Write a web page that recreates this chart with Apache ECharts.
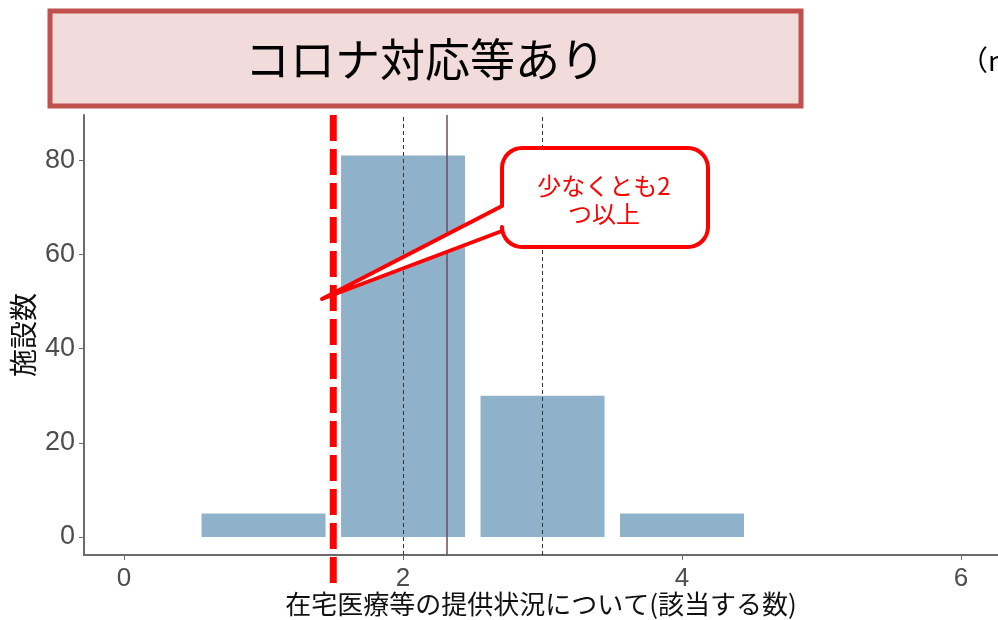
<!DOCTYPE html>
<html><head><meta charset="utf-8">
<script src="https://cdn.jsdelivr.net/npm/echarts@6/dist/echarts.min.js"></script>
<style>html,body{margin:0;padding:0;background:#fff}#c{width:998px;height:620px}</style>
</head><body><div id="c"></div>
<script>
const categories = [1, 2, 3, 4];
const counts = [5, 81, 30, 5];
const xTicks = [0, 2, 4, 6];
const yTicks = [0, 20, 40, 60, 80];
const thresholdX = 1.5;
const quartileX = [2, 3];
const meanX = 2.31;
const titleText = 'コロナ対応等あり';
const nText = '（n=121）';
const calloutText = '少なくとも2\nつ以上';
const xName = '在宅医療等の提供状況について(該当する数)';
const yName = '施設数';

const chart = echarts.init(document.getElementById('c'), null, {renderer: 'canvas'});
const latin = '"Liberation Sans", Arial, sans-serif';
const jp = '"Noto Sans CJK JP", sans-serif';

const option = {
  animation: false,
  backgroundColor: '#ffffff',
  grid: {left: 84, right: 0, top: 115, bottom: 65, containLabel: false, outerBoundsMode: 'none'},
  xAxis: {
    type: 'value', min: -0.287, max: 6.265,
    name: xName, nameLocation: 'middle', nameGap: 36, nameMoveOverlap: false,
    nameTextStyle: {fontFamily: jp, fontSize: 26, color: '#111'},
    axisLine: {show: true, onZero: false, lineStyle: {color: '#6b6b6b', width: 2}},
    axisTick: {show: true, customValues: xTicks, length: 5, lineStyle: {color: '#6b6b6b'}},
    axisLabel: {customValues: xTicks, fontFamily: latin, fontSize: 26, color: '#4d4d4d', margin: 11},
    splitLine: {show: false}
  },
  yAxis: {
    type: 'value', min: -3.82, max: 89.6,
    name: yName, nameLocation: 'middle', nameGap: 47, nameRotate: 90, nameMoveOverlap: false,
    nameTextStyle: {fontFamily: jp, fontSize: 28, color: '#111'},
    axisLine: {show: true, onZero: false, lineStyle: {color: '#6b6b6b', width: 2}},
    axisTick: {show: true, customValues: yTicks, length: 5, lineStyle: {color: '#6b6b6b'}},
    axisLabel: {customValues: yTicks, fontFamily: latin, fontSize: 27, color: '#4d4d4d', margin: 9},
    splitLine: {show: false}
  },
  series: [{
    type: 'bar',
    data: categories.map((c, i) => [c, counts[i]]),
    barWidth: 124,
    itemStyle: {color: '#8fb1c9'},
    markLine: {
      silent: true, symbol: 'none', label: {show: false},
      data: [
        ...quartileX.map(v => ({xAxis: v, lineStyle: {color: '#333', width: 1, type: [4, 3]}})),
        {xAxis: meanX, lineStyle: {color: '#6e4b5e', width: 1.5, type: 'solid'}}
      ]
    }
  }]
};
chart.setOption(option);

function arc(cx, cy, r, a0, a1) {
  const pts = [];
  for (let i = 0; i <= 8; i++) {
    const a = a0 + (a1 - a0) * i / 8;
    pts.push([cx + r * Math.cos(a), cy + r * Math.sin(a)]);
  }
  return pts;
}
const bx = 502, by = 148, bw = 206, bh = 99, r = 20;
const PI = Math.PI;
const calloutPts = [
  ...arc(bx + r, by + r, r, PI, 1.5 * PI),
  ...arc(bx + bw - r, by + r, r, 1.5 * PI, 2 * PI),
  ...arc(bx + bw - r, by + bh - r, r, 0, 0.5 * PI),
  ...arc(bx + r, by + bh - r, r, 0.5 * PI, PI),
  [bx, 231], [322, 299], [bx, 206]
];

const px = chart.convertToPixel({xAxisIndex: 0}, thresholdX);
chart.setOption({
  graphic: [
    {type: 'rect', shape: {x: 50, y: 11, width: 751, height: 95},
     style: {fill: '#f2dcdb', stroke: '#c0504d', lineWidth: 5}, z: 100},
    {type: 'text', x: 425, y: 60,
     style: {text: titleText, font: '45px "Noto Sans CJK JP"', fill: '#000', textAlign: 'center', textVerticalAlign: 'middle'}, z: 101},
    {type: 'text', x: 960, y: 60,
     style: {text: nText, font: '28px "Noto Sans CJK JP"', fill: '#000', textAlign: 'left', textVerticalAlign: 'middle'}, z: 101},
    {type: 'line', shape: {x1: px, y1: 115, x2: px, y2: 590},
     style: {stroke: '#ff0000', lineWidth: 7, lineDash: [26, 8]}, z: 90},
    {type: 'polygon', shape: {points: calloutPts},
     style: {fill: '#ffffff', stroke: '#ff0000', lineWidth: 4, lineJoin: 'round'}, z: 110},
    {type: 'text', x: 604, y: 200,
     style: {text: calloutText, font: '24px "Noto Sans CJK JP"', fill: '#ff0000', textAlign: 'center', textVerticalAlign: 'middle', lineHeight: 28}, z: 111}
  ]
});
</script>
</body></html>
